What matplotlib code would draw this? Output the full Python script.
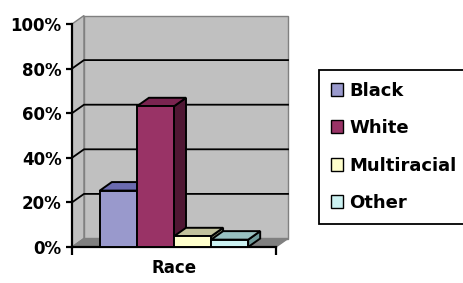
"""
3-D style column chart of race distribution, saved to out.png.
"""
import matplotlib.pyplot as plt
from matplotlib.patches import Polygon, Patch

categories = ["Black", "White", "Multiracial", "Other"]
values = [25.3, 63.1, 4.8, 3.3]
front_colors = ["#9999CC", "#993366", "#FFFFCC", "#CCF2F2"]
top_colors = ["#6B6BB0", "#7A2450", "#C2C29C", "#99C2C2"]
side_colors = ["#50507F", "#4F1733", "#8A8A6E", "#6E9A9A"]
yticks = [0, 20, 40, 60, 80, 100]
ytick_labels = ["0%", "20%", "40%", "60%", "80%", "100%"]
xlabel = "Race"

W, H = 463, 283
XMAX = 5.5
BAR_START = 0.75
BAR_WIDTH = 1.0
WALL = "#C0C0C0"
FLOOR = "#808080"

plt.rcParams["font.family"] = ["DejaVu Sans"]
plt.rcParams["font.weight"] = "bold"
plt.rcParams["font.size"] = 12

fig = plt.figure(figsize=(W / 100, H / 100), dpi=100)
ax = fig.add_axes([72 / W, 36 / H, 204 / W, 223 / H])
ax.set_xlim(0, XMAX)
ax.set_ylim(0, 100)

# depth of the 3-D effect, 12 px right and 8.5 px up, in data units
dx = 12 * XMAX / 204
dy = 8.5 * 100 / 223


def _poly(points, face, edge, lw, z):
    ax.add_patch(Polygon(points, closed=True, facecolor=face, edgecolor=edge,
                         linewidth=lw, joinstyle="miter", zorder=z,
                         clip_on=False))


# walls and floor
_poly([(0, 0), (dx, dy), (dx, 100 + dy), (0, 100)], WALL, FLOOR, 1, 0.5)
_poly([(dx, dy), (XMAX + dx, dy), (XMAX + dx, 100 + dy), (dx, 100 + dy)],
      WALL, FLOOR, 1, 0.5)
_poly([(0, 0), (XMAX, 0), (XMAX + dx, dy), (dx, dy)], FLOOR, FLOOR, 1, 0.6)

# gridlines on the side and back walls
for v in yticks[1:-1]:
    ax.plot([0, dx, XMAX + dx], [v, v + dy, v + dy], color="black",
            linewidth=1.3, zorder=0.7, clip_on=False)

# bars, left to right so that each one hides the side of the previous
for i, (val, fc, tc, sc) in enumerate(zip(values, front_colors,
                                          top_colors, side_colors)):
    x0 = BAR_START + i * BAR_WIDTH
    x1 = x0 + BAR_WIDTH
    z = 3 + i
    _poly([(x1, 0), (x1 + dx, dy), (x1 + dx, val + dy), (x1, val)],
          sc, "black", 1.4, z)
    _poly([(x0, val), (x1, val), (x1 + dx, val + dy), (x0 + dx, val + dy)],
          tc, "black", 1.4, z)
    _poly([(x0, 0), (x1, 0), (x1, val), (x0, val)], fc, "black", 1.4, z)

for side in ("top", "right"):
    ax.spines[side].set_visible(False)
for side in ("left", "bottom"):
    ax.spines[side].set_linewidth(1.6)
    ax.spines[side].set_zorder(2)
ax.patch.set_visible(False)

ax.set_yticks(yticks, ytick_labels)
ax.set_xticks([0, XMAX], ["", ""])
ax.tick_params(axis="y", length=4.5, width=1.6, pad=3)
ax.tick_params(axis="x", length=5.5, width=1.6, pad=0)
ax.set_xlabel(xlabel, fontweight="bold", labelpad=3)

# the legend box runs past the right edge of the picture, as in the original
handles = [Patch(facecolor=c, edgecolor="black", linewidth=1)
           for c in front_colors]
leg = ax.legend(handles, categories, loc="upper left",
                bbox_to_anchor=(319 / W, 1 - 70 / H),
                bbox_transform=fig.transFigure, borderaxespad=0,
                fancybox=False, framealpha=1, edgecolor="black",
                handlelength=0.7, handleheight=0.7, handletextpad=0.35,
                labelspacing=1.08, borderpad=0.64,
                prop={"weight": "bold", "size": 13})
leg.get_frame().set_linewidth(1.3)

fig.savefig("out.png", dpi=100)
